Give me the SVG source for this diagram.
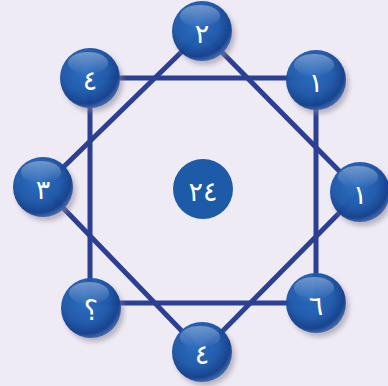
<svg xmlns="http://www.w3.org/2000/svg" width="388" height="386" viewBox="0 0 388 386">
<defs>
<radialGradient id="ball" cx="0.42" cy="0.38" r="0.62">
<stop offset="0" stop-color="#2a6cc0"/>
<stop offset="0.6" stop-color="#1c58aa"/>
<stop offset="0.88" stop-color="#123f8c"/>
<stop offset="1" stop-color="#3a62a8"/>
</radialGradient>
<linearGradient id="gloss" x1="0" y1="0" x2="0" y2="1">
<stop offset="0" stop-color="#ffffff" stop-opacity="0.35"/>
<stop offset="1" stop-color="#ffffff" stop-opacity="0"/>
</linearGradient>
<filter id="sh" x="-30%" y="-30%" width="170%" height="170%">
<feGaussianBlur stdDeviation="2.5"/>
</filter>
</defs>
<style>
.ln{stroke:#2b3f95;stroke-width:5;fill:none;stroke-linejoin:miter}
.shadow{fill:#8a8494;opacity:0.55;filter:url(#sh)}
.b{fill:url(#ball);opacity:0.96}
.g{fill:url(#gloss)}
.t{font-family:"DejaVu Sans",sans-serif;font-size:27px;fill:#ffffff;text-anchor:middle;dominant-baseline:central}
</style>
<rect width="388" height="386" fill="#efebf4"/>
<g id="connectors">
<polygon class="ln" points="90,78 316,78 316,303 90,303"/>
<polygon class="ln" points="202,32 360,192 202,352 43,187"/>
</g>
<g id="n-top">
<circle class="shadow" cx="205" cy="35" r="30"/>
<circle class="b" cx="202" cy="31" r="30"/>
<ellipse class="g" cx="200" cy="16" rx="20" ry="11"/>
<text class="t" x="202" y="33">٢</text>
</g>
<g id="n-tl">
<circle class="shadow" cx="93" cy="82" r="30"/>
<circle class="b" cx="90" cy="78" r="30"/>
<ellipse class="g" cx="88" cy="63" rx="20" ry="11"/>
<text class="t" x="90" y="80">٤</text>
</g>
<g id="n-tr">
<circle class="shadow" cx="319" cy="84" r="30"/>
<circle class="b" cx="316" cy="80" r="30"/>
<ellipse class="g" cx="314" cy="65" rx="20" ry="11"/>
<text class="t" x="316" y="82">١</text>
</g>
<g id="n-left">
<circle class="shadow" cx="46" cy="191" r="30"/>
<circle class="b" cx="43" cy="187" r="30"/>
<ellipse class="g" cx="41" cy="172" rx="20" ry="11"/>
<text class="t" x="43" y="189">٣</text>
</g>
<g id="n-right">
<circle class="shadow" cx="363" cy="196" r="30"/>
<circle class="b" cx="360" cy="192" r="30"/>
<ellipse class="g" cx="358" cy="177" rx="20" ry="11"/>
<text class="t" x="360" y="194">١</text>
</g>
<g id="n-bl">
<circle class="shadow" cx="94" cy="312" r="30"/>
<circle class="b" cx="91" cy="308" r="30"/>
<ellipse class="g" cx="89" cy="293" rx="20" ry="11"/>
<text class="t" x="91" y="310">؟</text>
</g>
<g id="n-br">
<circle class="shadow" cx="319" cy="307" r="30"/>
<circle class="b" cx="316" cy="303" r="30"/>
<ellipse class="g" cx="314" cy="288" rx="20" ry="11"/>
<text class="t" x="316" y="305">٦</text>
</g>
<g id="n-bottom">
<circle class="shadow" cx="205" cy="356" r="30"/>
<circle class="b" cx="202" cy="352" r="30"/>
<ellipse class="g" cx="200" cy="337" rx="20" ry="11"/>
<text class="t" x="202" y="354">٤</text>
</g>
<g id="n-center">
<circle cx="203" cy="189" r="30" fill="#1d5aa8"/>
<text class="t" x="203" y="191">٢٤</text>
</g>
</svg>
